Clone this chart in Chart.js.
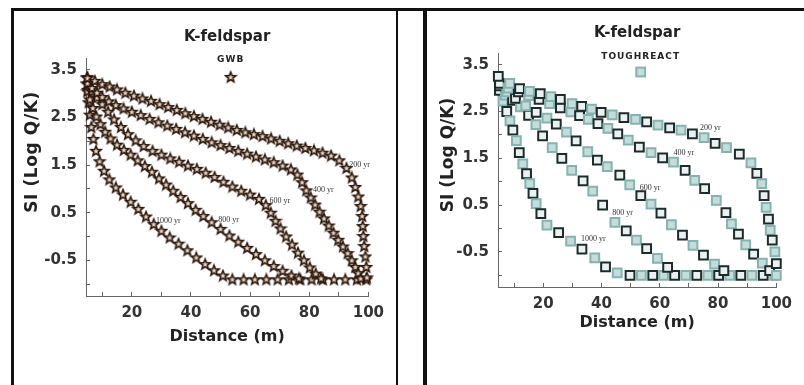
<!DOCTYPE html>
<html>
<head>
<meta charset="utf-8">
<script src="https://cdn.jsdelivr.net/npm/chart.js@4.4.0/dist/chart.umd.min.js"></script>
<style>
  html, body { margin: 0; padding: 0; background: #fff; }
  body { width: 804px; height: 385px; position: relative; overflow: hidden; }
  .line { position: absolute; background: #111; }
  .panel { position: absolute; }
</style>
</head>
<body>
<div class="line" style="left:11px;top:8px;width:793px;height:3px"></div>
<div class="line" style="left:11px;top:8px;width:3px;height:377px"></div>
<div class="line" style="left:396px;top:8px;width:2px;height:377px"></div>
<div class="line" style="left:423px;top:8px;width:4px;height:377px"></div>
<div class="panel" style="left:14px;top:11px;width:382px;height:374px"><canvas id="gwbChart"></canvas></div>
<div class="panel" style="left:428px;top:11px;width:376px;height:374px"><canvas id="trChart"></canvas></div>
<script>
// tick values / labels
const xTickValues = [10, 20, 30, 40, 50, 60, 70, 80, 90, 100];
const xTickLabels = [20, 40, 60, 80, 100];
const yTickValues = [-1, -0.5, 0, 0.5, 1, 1.5, 2, 2.5, 3, 3.5];
const yTickLabels = [-0.5, 0.5, 1.5, 2.5, 3.5];
const curveNames = ['200 yr', '400 yr', '600 yr', '800 yr', '1000 yr'];

// GWB (left panel) - distance (m) and SI
const gwb200x = [5, 7.5, 10, 12.5, 15, 17.8, 20.7, 23.6, 26.5, 29.4, 32.3, 35.2, 38.1, 41, 43.9, 46.8, 49.7, 52.6, 55.5, 58.4, 61.3, 64.2, 67.1, 70, 72.9, 75.8, 78.7, 81.6, 84.5, 87.4, 90.2, 92.6, 94.4, 95.6, 96.6, 97.4, 97.9, 98.1, 98.3, 98.6, 99, 99.3, 99.5];
const gwb200y = [3.33, 3.27, 3.2, 3.15, 3.09, 3.02, 2.96, 2.9, 2.85, 2.78, 2.72, 2.66, 2.59, 2.53, 2.47, 2.41, 2.35, 2.29, 2.24, 2.19, 2.15, 2.11, 2.06, 2.01, 1.96, 1.91, 1.86, 1.81, 1.76, 1.7, 1.6, 1.44, 1.24, 1.04, 0.84, 0.64, 0.43, 0.22, 0.01, -0.2, -0.42, -0.64, -0.86];
const gwb400x = [5, 6.5, 8.2, 10, 12.2, 14.6, 17.2, 20, 23, 26, 29, 32, 35, 38, 41, 44, 47, 50, 53, 56, 59, 62, 65, 68, 71, 73.8, 76, 77.6, 79, 80.5, 82, 83.5, 85, 86.6, 88.2, 89.8, 91.4, 93, 94.4, 95.6, 96.6, 97.4];
const gwb400y = [3.22, 3.12, 3.02, 2.93, 2.84, 2.76, 2.69, 2.62, 2.55, 2.47, 2.4, 2.33, 2.26, 2.19, 2.12, 2.05, 1.98, 1.92, 1.86, 1.8, 1.74, 1.68, 1.62, 1.56, 1.49, 1.41, 1.3, 1.14, 0.97, 0.82, 0.67, 0.52, 0.38, 0.23, 0.08, -0.07, -0.21, -0.35, -0.5, -0.64, -0.77, -0.88];
const gwb600x = [5, 6.5, 8.2, 10, 12, 14, 16.3, 18.7, 21.3, 24, 27, 30, 33, 36, 39, 42, 45, 48, 51, 54, 57, 60, 63, 65.3, 67, 68.6, 70.3, 72.2, 74.2, 76.2, 78.2, 80.2, 82.2, 84];
const gwb600y = [3.2, 3.05, 2.92, 2.78, 2.62, 2.46, 2.3, 2.15, 2.02, 1.9, 1.8, 1.72, 1.64, 1.57, 1.49, 1.42, 1.34, 1.25, 1.15, 1.05, 0.96, 0.88, 0.79, 0.66, 0.5, 0.33, 0.17, 0, -0.17, -0.34, -0.5, -0.65, -0.78, -0.88];
const gwb800x = [5, 5.8, 6.8, 8, 9.4, 11, 12.8, 15, 17.3, 19.6, 22, 24.4, 26.8, 29.2, 31.6, 34, 36.5, 39, 41.6, 44.2, 47, 50, 53, 56, 59, 62, 65, 68, 71, 74, 76.5];
const gwb800y = [3.05, 2.88, 2.7, 2.52, 2.36, 2.2, 2.06, 1.93, 1.82, 1.72, 1.6, 1.48, 1.36, 1.22, 1.09, 0.96, 0.83, 0.7, 0.56, 0.43, 0.3, 0.16, 0.02, -0.11, -0.24, -0.37, -0.5, -0.62, -0.72, -0.82, -0.88];
const gwb1000x = [4.9, 5.1, 5.4, 5.8, 6.3, 7, 7.9, 9.1, 10.6, 12.4, 14.6, 17, 19.6, 22.2, 24.8, 27.4, 30, 32.8, 35.8, 38.8, 41.8, 44.8, 47.8, 50.8, 54, 57.8, 61.6, 65.5, 69.3, 73.1, 77, 80.8, 84.6, 88.4, 92.2, 96.1, 99.3];
const gwb1000y = [3.35, 3.08, 2.82, 2.56, 2.3, 2.05, 1.8, 1.58, 1.38, 1.2, 1.03, 0.88, 0.73, 0.58, 0.42, 0.26, 0.12, -0.02, -0.15, -0.29, -0.44, -0.58, -0.71, -0.82, -0.9, -0.9, -0.9, -0.9, -0.9, -0.9, -0.9, -0.9, -0.9, -0.9, -0.9, -0.9, -0.9];
const gwbLabelX = [93.5, 81.3, 66.6, 49.2, 28.2];
const gwbLabelY = [1.5, 0.97, 0.74, 0.34, 0.32];

// TOUGHREACT (right panel)
const tr200x = [4.6, 8.5, 11.9, 15.3, 19, 22.6, 25.9, 29.9, 33.2, 36.6, 39.9, 43.7, 47.7, 51.7, 55.5, 59.4, 63.4, 67.3, 71.2, 75.2, 79, 82.9, 87.3, 91.3, 93.3, 95, 95.8, 96.5, 97.3, 97.9, 98.6, 99.5, 100, 100];
const tr200y = [3.25, 3.1, 2.99, 2.93, 2.88, 2.82, 2.76, 2.67, 2.61, 2.55, 2.48, 2.43, 2.37, 2.33, 2.28, 2.21, 2.15, 2.1, 2.02, 1.94, 1.82, 1.73, 1.59, 1.4, 1.18, 0.96, 0.7, 0.45, 0.2, -0.04, -0.25, -0.5, -0.75, -1.0];
const tr400x = [5, 8, 11.5, 15, 18.6, 22.2, 25.9, 29.5, 32.5, 35.5, 38.8, 42.2, 45.6, 49.2, 53, 57, 61, 64.7, 68.7, 72, 75.4, 79.4, 82.7, 84.6, 87, 89.5, 92.2, 95.2, 97.7];
const tr400y = [3.1, 3.0, 2.92, 2.84, 2.76, 2.67, 2.58, 2.49, 2.41, 2.33, 2.24, 2.14, 2.02, 1.89, 1.74, 1.62, 1.51, 1.42, 1.24, 1.03, 0.85, 0.6, 0.34, 0.1, -0.12, -0.35, -0.55, -0.74, -0.9];
const tr600x = [5, 7.5, 10.5, 14, 17.6, 21.3, 24.5, 28, 31.3, 35.3, 38.6, 42, 46.3, 49.7, 53.5, 57, 60.4, 64, 67.8, 71.4, 75, 78.8, 82];
const tr600y = [3.05, 2.92, 2.78, 2.62, 2.48, 2.36, 2.23, 2.06, 1.87, 1.64, 1.46, 1.32, 1.14, 0.93, 0.7, 0.52, 0.33, 0.08, -0.14, -0.36, -0.57, -0.76, -0.9];
const tr800x = [5, 7, 9.5, 12.2, 15, 17.5, 19.8, 23.1, 26.4, 29.8, 33.7, 37, 40.4, 44.6, 48.5, 52, 55.5, 59.2, 62.7];
const tr800y = [2.95, 2.85, 2.74, 2.6, 2.42, 2.22, 1.98, 1.73, 1.5, 1.24, 1.02, 0.8, 0.5, 0.13, -0.05, -0.25, -0.43, -0.64, -0.83];
const tr1000x = [5.2, 6.2, 7.5, 8.6, 9.6, 10.8, 11.8, 13, 14.3, 15.4, 16.5, 17.6, 19.2, 21.3, 25.3, 29.4, 33.3, 37.7, 41.4, 45.4, 49.8, 53.7, 57.6, 61.3, 65.1, 68.9, 72.7, 76.5, 80.2, 84, 87.8, 91.6, 95.5, 99.4];
const tr1000y = [2.97, 2.72, 2.5, 2.3, 2.1, 1.88, 1.62, 1.38, 1.17, 0.96, 0.75, 0.53, 0.32, 0.07, -0.09, -0.27, -0.44, -0.63, -0.82, -0.95, -1, -1, -1, -1, -1, -1, -1, -1, -1, -1, -1, -1, -1, -1];
const trLabelX = [73.8, 64.7, 53.1, 43.7, 33];
const trLabelY = [2.14, 1.61, 0.87, 0.34, -0.23];

Chart.defaults.font.family = "'DejaVu Sans', sans-serif";
Chart.defaults.color = '#333';
Chart.defaults.animation = false;

const toPoints = (xs, ys) => xs.map((x, i) => ({ x: x, y: ys[i] }));

// five-point star marker
function makeStar() {
  const c = document.createElement('canvas');
  c.width = 14; c.height = 14;
  const g = c.getContext('2d');
  g.beginPath();
  for (let i = 0; i < 10; i++) {
    const r = i % 2 ? 2.3 : 5.3;
    const a = -Math.PI / 2 + i * Math.PI / 5;
    g.lineTo(7 + r * Math.cos(a), 7.4 + r * Math.sin(a));
  }
  g.closePath();
  g.fillStyle = '#ecdcc8';
  g.fill();
  g.lineWidth = 2.2;
  g.strokeStyle = 'rgba(120,55,30,0.3)';
  g.stroke();
  g.lineWidth = 1.4;
  g.strokeStyle = '#24150d';
  g.stroke();
  return c;
}
const starImg = makeStar();

const darkEdge = '#1d2b2b', lightEdge = '#86b3b0';
const darkFill = '#e9f2f1', lightFill = '#c4dcda';

function makeTextPlugin(cfg) {
  return {
    id: 'panelText',
    afterDatasetsDraw(chart) {
      const { ctx, chartArea: a, scales } = chart;
      const cx = (a.left + a.right) / 2 + 3.5;
      ctx.save();
      ctx.fillStyle = '#222';
      ctx.textAlign = 'center';
      ctx.textBaseline = 'middle';
      ctx.font = 'bold 9px "DejaVu Sans"';
      ctx.letterSpacing = '1px';
      ctx.fillText(cfg.model, cx, a.top + cfg.modelDy);
      ctx.letterSpacing = '0px';
      const my = a.top + 19;
      if (cfg.marker === 'star') {
        ctx.drawImage(starImg, cx - 7, my - 7);
      } else {
        ctx.lineWidth = 2;
        ctx.fillStyle = lightFill;
        ctx.strokeStyle = lightEdge;
        ctx.fillRect(cx - 4.4, my - 4.4, 8.8, 8.8);
        ctx.strokeRect(cx - 4.4, my - 4.4, 8.8, 8.8);
      }
      ctx.fillStyle = '#333';
      ctx.font = '8px "Liberation Serif"';
      ctx.textAlign = 'left';
      cfg.labelX.forEach((lx, i) => {
        ctx.fillText(curveNames[i], scales.x.getPixelForValue(lx), scales.y.getPixelForValue(cfg.labelY[i]));
      });
      ctx.translate(cfg.yTitleX, cfg.yTitleY);
      ctx.rotate(-Math.PI / 2);
      ctx.textAlign = 'center';
      ctx.fillStyle = '#222';
      ctx.font = 'bold 17px "DejaVu Sans"';
      ctx.letterSpacing = cfg.yTitleSpacing;
      ctx.fillText('SI (Log Q/K)', 0, 0);
      ctx.restore();
    }
  };
}

function makeScales(yWidth, xHeight) {
  const gridOpts = { drawOnChartArea: false, drawTicks: true, tickLength: -4, color: '#666' };
  return {
    x: {
      type: 'linear', min: 4.5, max: 100, bounds: 'data',
      afterFit: (s) => { s.height = xHeight; },
      afterBuildTicks: (s) => { s.ticks = xTickValues.map(v => ({ value: v })); },
      ticks: {
        autoSkip: false, maxRotation: 0, padding: 12, color: '#333',
        font: { size: 15, weight: 'bold' },
        callback: (v) => xTickLabels.includes(v) ? String(v) : ''
      },
      grid: gridOpts,
      border: { display: true, color: '#666', width: 1 },
      title: { display: true, text: 'Distance (m)', color: '#222', font: { size: 16, weight: 'bold' }, padding: { top: 0, bottom: 4.4 } }
    },
    y: {
      type: 'linear', min: -1.25, max: 3.75, bounds: 'data',
      afterFit: (s) => { s.width = yWidth; },
      afterBuildTicks: (s) => { s.ticks = yTickValues.map(v => ({ value: v })); },
      ticks: {
        autoSkip: false, padding: 13, color: '#333',
        font: { size: 15, weight: 'bold' },
        callback: (v) => yTickLabels.includes(v) ? v.toFixed(1) : ''
      },
      grid: gridOpts,
      border: { display: true, color: '#666', width: 1 }
    }
  };
}

function titleOpts(top, bottom) {
  return {
    display: true, text: 'K-feldspar', fullSize: false, color: '#222',
    font: { size: 15, weight: 'bold' }, padding: { top: top, bottom: bottom }
  };
}

const gwbSeries = [[gwb200x, gwb200y], [gwb400x, gwb400y], [gwb600x, gwb600y], [gwb800x, gwb800y], [gwb1000x, gwb1000y]];
const trSeries = [[tr200x, tr200y], [tr400x, tr400y], [tr600x, tr600y], [tr800x, tr800y], [tr1000x, tr1000y]];

new Chart(document.getElementById('gwbChart'), {
  type: 'scatter',
  data: {
    datasets: gwbSeries.map((s, i) => ({
      label: curveNames[i],
      data: toPoints(s[0], s[1]),
      pointStyle: starImg,
      pointRadius: 5,
      showLine: false,
      clip: false
    }))
  },
  options: {
    responsive: true, maintainAspectRatio: false, events: [],
    layout: { padding: { left: 0, right: 19, top: 0, bottom: 34 } },
    scales: makeScales(72, 55),
    plugins: { legend: { display: false }, tooltip: { enabled: false }, title: titleOpts(17, 12) }
  },
  plugins: [makeTextPlugin({
    model: 'GWB', modelDy: 2, marker: 'star',
    labelX: gwbLabelX, labelY: gwbLabelY,
    yTitleX: 18.5, yTitleY: 141, yTitleSpacing: '0.6px'
  })]
});

new Chart(document.getElementById('trChart'), {
  type: 'scatter',
  data: {
    datasets: trSeries.map((s, i) => ({
      label: curveNames[i],
      data: toPoints(s[0], s[1]),
      pointStyle: 'rect',
      pointRadius: 6.2,
      pointBorderWidth: 2,
      pointBorderColor: (c) => c.dataIndex % 2 ? lightEdge : darkEdge,
      pointBackgroundColor: (c) => c.dataIndex % 2 ? lightFill : darkFill,
      showLine: false,
      clip: false
    }))
  },
  options: {
    responsive: true, maintainAspectRatio: false, events: [],
    layout: { padding: { left: 0, right: 21, top: 0, bottom: 48 } },
    scales: makeScales(70, 50),
    plugins: { legend: { display: false }, tooltip: { enabled: false }, title: titleOpts(13, 11) }
  },
  plugins: [makeTextPlugin({
    model: 'TOUGHREACT', modelDy: 4, marker: 'square',
    labelX: trLabelX, labelY: trLabelY,
    yTitleX: 21, yTitleY: 144, yTitleSpacing: '0px'
  })]
});
</script>
</body>
</html>
